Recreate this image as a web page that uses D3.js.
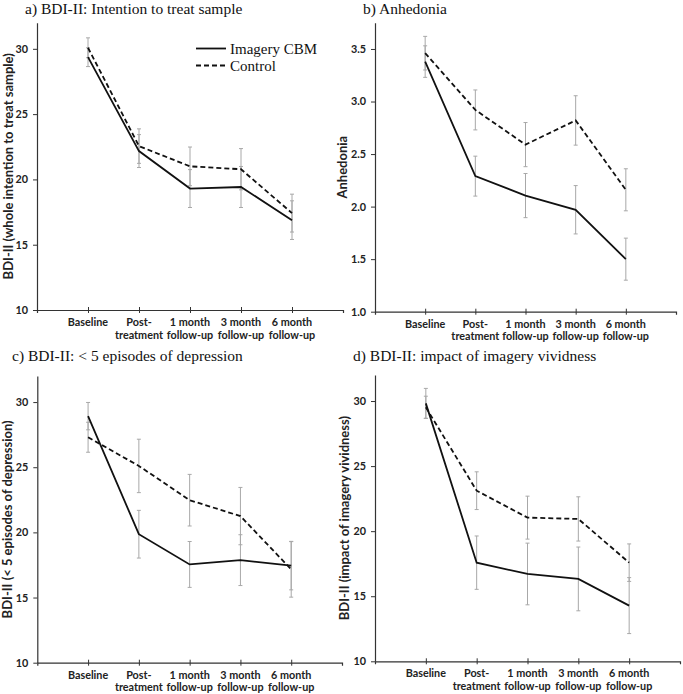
<!DOCTYPE html>
<html>
<head>
<meta charset="utf-8">
<script src="https://cdn.jsdelivr.net/npm/d3@7"></script>
<style>
  body { margin: 0; background: #fff; }
  .title { font-family: "Liberation Serif", "Times New Roman", serif; font-size: 15.5px; fill: #111; }
  .legend text { font-family: "Liberation Serif", "Times New Roman", serif; font-size: 15px; fill: #111; }
  .axis text { font-family: Lato, "Open Sans", sans-serif; font-weight: bold; font-size: 10.8px; fill: #222; }
  .ytitle { font-family: Lato, "Open Sans", sans-serif; font-weight: bold; font-size: 13px; fill: #222; }
  .axis path, .axis line { stroke: #333; }
</style>
</head>
<body>
<div id="chart"></div>
<script>
const width = 683;
const height = 694;

const categories = ["Baseline", "Post-\ntreatment", "1 month\nfollow-up", "3 month\nfollow-up", "6 month\nfollow-up"];
const seriesNames = ["Imagery CBM", "Control"];

// a) intention to treat sample
const aImagery = [29.36, 22.17, 19.30, 19.42, 16.88];
const aImageryErr = [0.72, 1.26, 1.45, 1.57, 1.48];
const aControl = [30.08, 22.55, 21.00, 20.78, 17.42];
const aControlErr = [0.76, 1.32, 1.48, 1.58, 1.45];

// b) anhedonia
const bImagery = [3.38, 2.29, 2.105, 1.97, 1.50];
const bImageryErr = [0.15, 0.19, 0.21, 0.23, 0.20];
const bControl = [3.46, 2.92, 2.59, 2.82, 2.16];
const bControlErr = [0.16, 0.19, 0.21, 0.235, 0.20];

// c) < 5 episodes of depression
const cImagery = [28.92, 19.86, 17.54, 17.87, 17.45];
const cImageryErr = [1.05, 1.83, 1.76, 1.95, 1.86];
const cControl = [27.30, 25.10, 22.47, 21.25, 17.16];
const cControlErr = [1.15, 2.05, 1.98, 2.20, 2.13];

// d) impact of imagery vividness
const dImagery = [29.82, 17.58, 16.71, 16.33, 14.28];
const dImageryErr = [1.15, 2.05, 2.37, 2.45, 2.15];
const dControl = [29.52, 23.11, 21.04, 20.94, 17.58];
const dControlErr = [0.85, 1.45, 1.65, 1.70, 1.44];

const bdiTicks = [10, 15, 20, 25, 30];
const anhTicks = [1.0, 1.5, 2.0, 2.5, 3.0, 3.5];

const panels = [
  { title: "a) BDI-II: Intention to treat sample", ytitle: "BDI-II (whole intention to treat sample)",
    imagery: aImagery, imageryErr: aImageryErr, control: aControl, controlErr: aControlErr,
    domain: [10, 32], ticks: bdiTicks, fmt: d3.format("d"),
    left: 37, right: 343, top: 22.7, bottom: 310, titleX: 25, titleY: 14, ytitleX: 13, legend: true },
  { title: "b) Anhedonia", ytitle: "Anhedonia",
    imagery: bImagery, imageryErr: bImageryErr, control: bControl, controlErr: bControlErr,
    domain: [1, 3.75], ticks: anhTicks, fmt: d3.format(".1f"),
    left: 375, right: 676, top: 22.7, bottom: 311.7, titleX: 363, titleY: 14, ytitleX: 347 },
  { title: "c) BDI-II: < 5 episodes of depression", ytitle: "BDI-II (< 5 episodes of depression)",
    imagery: cImagery, imageryErr: cImageryErr, control: cControl, controlErr: cControlErr,
    domain: [10, 32], ticks: bdiTicks, fmt: d3.format("d"),
    left: 37.3, right: 342, top: 376, bottom: 662.7, titleX: 12, titleY: 361, ytitleX: 12 },
  { title: "d) BDI-II: impact of imagery vividness", ytitle: "BDI-II (impact of imagery vividness)",
    imagery: dImagery, imageryErr: dImageryErr, control: dControl, controlErr: dControlErr,
    domain: [10, 32], ticks: bdiTicks, fmt: d3.format("d"),
    left: 375, right: 680, top: 375, bottom: 661.3, titleX: 353, titleY: 361, ytitleX: 348.5 }
];

const svg = d3.select("#chart")
  .append("svg")
  .attr("width", width)
  .attr("height", height)
  .style("background", "#fff");

panels.forEach(p => {
  const g = svg.append("g");

  const x = d3.scalePoint()
    .domain(categories)
    .range([p.left, p.right])
    .padding(1);

  const y = d3.scaleLinear()
    .domain(p.domain)
    .range([p.bottom, p.top]);

  // title
  g.append("text")
    .attr("class", "title")
    .attr("x", p.titleX)
    .attr("y", p.titleY)
    .text(p.title);

  // y axis
  const yAxis = d3.axisLeft(y).tickValues(p.ticks).tickFormat(p.fmt).tickSize(4).tickSizeOuter(0).tickPadding(5);
  g.append("g")
    .attr("class", "axis")
    .attr("transform", `translate(${p.left},0)`)
    .call(yAxis)
    .call(a => a.select(".domain").attr("stroke-width", 1.2));

  // x axis: ticks at both ends and at every category
  const xAxis = d3.axisBottom(x).tickSize(3).tickSizeOuter(3).tickFormat("");
  const xg = g.append("g")
    .attr("class", "axis")
    .attr("transform", `translate(0,${p.bottom})`)
    .call(xAxis);
  xg.select(".domain").attr("stroke-width", 1.2);
  xg.selectAll(".tick line").attr("y1", -3);

  const labels = g.append("g").attr("class", "axis");
  categories.forEach(c => {
    const t = labels.append("text")
      .attr("text-anchor", "middle")
      .attr("x", x(c))
      .attr("y", p.bottom + 16);
    c.split("\n").forEach((line, i) => {
      t.append("tspan").attr("x", x(c)).attr("dy", i === 0 ? 0 : 12.5).text(line);
    });
  });

  // y title
  g.append("text")
    .attr("class", "ytitle")
    .attr("text-anchor", "middle")
    .attr("transform", `translate(${p.ytitleX},${(p.top + p.bottom) / 2}) rotate(-90)`)
    .text(p.ytitle);

  // error bars
  const series = [
    { values: p.imagery, err: p.imageryErr, dash: null },
    { values: p.control, err: p.controlErr, dash: "5,3" }
  ];

  series.forEach(s => {
    const eb = g.append("g").attr("stroke", "#a8a8a8").attr("stroke-width", 1);
    categories.forEach((c, i) => {
      const hi = y(s.values[i] + s.err[i]);
      const lo = y(s.values[i] - s.err[i]);
      eb.append("line").attr("x1", x(c)).attr("x2", x(c)).attr("y1", hi).attr("y2", lo);
      eb.append("line").attr("x1", x(c) - 2).attr("x2", x(c) + 2).attr("y1", hi).attr("y2", hi);
      eb.append("line").attr("x1", x(c) - 2).attr("x2", x(c) + 2).attr("y1", lo).attr("y2", lo);
    });
  });

  const line = d3.line()
    .x((d, i) => x(categories[i]))
    .y(d => y(d));

  series.forEach(s => {
    g.append("path")
      .datum(s.values)
      .attr("fill", "none")
      .attr("stroke", "#111")
      .attr("stroke-width", 1.8)
      .attr("stroke-dasharray", s.dash)
      .attr("d", line);
  });

  if (p.legend) {
    const lg = g.append("g").attr("class", "legend");
    const dashes = [null, "5,3"];
    seriesNames.forEach((name, i) => {
      const ly = 48.5 + i * 17;
      lg.append("line")
        .attr("x1", 196).attr("x2", 226)
        .attr("y1", ly).attr("y2", ly)
        .attr("stroke", "#111").attr("stroke-width", 1.8)
        .attr("stroke-dasharray", dashes[i]);
      lg.append("text")
        .attr("x", 230)
        .attr("y", ly + 5)
        .text(name);
    });
  }
});
</script>
</body>
</html>
